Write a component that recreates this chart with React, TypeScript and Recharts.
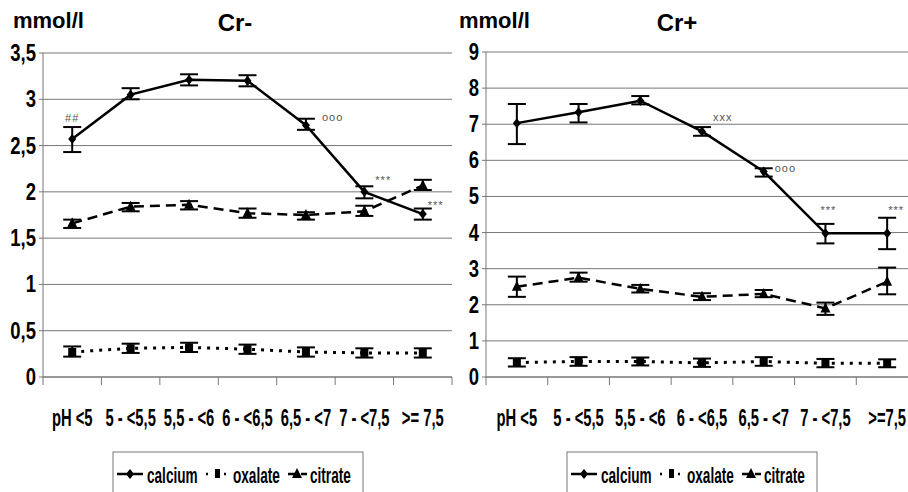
import { LineChart, Line, XAxis, YAxis, CartesianGrid, ErrorBar, LabelList } from 'recharts';

const phClassesMinus = ['pH <5', '5 - <5,5', '5,5 - <6', '6 - <6,5', '6,5 - <7', '7 - <7,5', '>= 7,5'];
const phClassesPlus = ['pH <5', '5 - <5,5', '5,5 - <6', '6 - <6,5', '6,5 - <7', '7 - <7,5', '>=7,5'];

// Cr- panel (mmol/l)
const minusCalcium = [2.57, 3.05, 3.21, 3.2, 2.72, 2.0, 1.76];
const minusCalciumLow = [2.43, 3.0, 3.15, 3.14, 2.67, 1.93, 1.7];
const minusCalciumHigh = [2.7, 3.12, 3.27, 3.26, 2.79, 2.06, 1.82];
const minusOxalate = [0.27, 0.31, 0.32, 0.3, 0.27, 0.26, 0.26];
const minusOxalateLow = [0.22, 0.26, 0.27, 0.25, 0.22, 0.21, 0.21];
const minusOxalateHigh = [0.33, 0.36, 0.37, 0.35, 0.32, 0.31, 0.31];
const minusCitrate = [1.66, 1.84, 1.86, 1.77, 1.75, 1.79, 2.07];
const minusCitrateLow = [1.61, 1.79, 1.81, 1.72, 1.7, 1.74, 2.02];
const minusCitrateHigh = [1.7, 1.88, 1.9, 1.82, 1.78, 1.85, 2.13];
const minusNotes = ['##', '', '', '', 'ooo', '***', '***'];
const minusTicks = [0, 0.5, 1, 1.5, 2, 2.5, 3, 3.5];

// Cr+ panel (mmol/l)
const plusCalcium = [7.03, 7.33, 7.65, 6.8, 5.69, 3.98, 3.98];
const plusCalciumLow = [6.45, 7.05, 7.55, 6.68, 5.55, 3.7, 3.54];
const plusCalciumHigh = [7.56, 7.56, 7.78, 6.92, 5.78, 4.24, 4.41];
const plusOxalate = [0.4, 0.43, 0.43, 0.39, 0.43, 0.38, 0.38];
const plusOxalateLow = [0.29, 0.31, 0.32, 0.28, 0.31, 0.27, 0.27];
const plusOxalateHigh = [0.52, 0.55, 0.54, 0.51, 0.55, 0.5, 0.49];
const plusCitrate = [2.5, 2.75, 2.44, 2.22, 2.3, 1.9, 2.64];
const plusCitrateLow = [2.22, 2.64, 2.34, 2.13, 2.21, 1.72, 2.29];
const plusCitrateHigh = [2.78, 2.89, 2.55, 2.32, 2.41, 2.06, 3.03];
const plusNotes = ['', '', '', 'xxx', 'ooo', '***', '***'];
const plusTicks = [0, 1, 2, 3, 4, 5, 6, 7, 8, 9];

// where each significance mark sits relative to its calcium point: [dx, dy, anchor]
const minusNoteShift: [number, number, string][] = [
  [0, -17, 'middle'], [0, 0, 'start'], [0, 0, 'start'], [0, 0, 'start'],
  [16, -4, 'start'], [11, -8, 'start'], [5, -5, 'start'],
];
const plusNoteShift: [number, number, string][] = [
  [0, 0, 'start'], [0, 0, 'start'], [0, 0, 'start'], [11, -10, 'start'],
  [11, 0, 'start'], [-5, -19, 'start'], [1, -19, 'start'],
];

// bold Arial-like face squeezed to look like the narrow face of the original
const FONT = '"Liberation Sans", Arial, sans-serif';
const GRID = '#777';

const buildRows = (cats: string[], ca: number[], caLo: number[], caHi: number[],
  ox: number[], oxLo: number[], oxHi: number[], ci: number[], ciLo: number[], ciHi: number[], notes: string[]) =>
  cats.map((cat, i) => ({
    cat,
    calcium: ca[i], calciumErr: [ca[i] - caLo[i], caHi[i] - ca[i]],
    oxalate: ox[i], oxalateErr: [ox[i] - oxLo[i], oxHi[i] - ox[i]],
    citrate: ci[i], citrateErr: [ci[i] - ciLo[i], ciHi[i] - ci[i]],
    note: notes[i],
  }));

const minusRows = buildRows(phClassesMinus, minusCalcium, minusCalciumLow, minusCalciumHigh,
  minusOxalate, minusOxalateLow, minusOxalateHigh, minusCitrate, minusCitrateLow, minusCitrateHigh, minusNotes);
const plusRows = buildRows(phClassesPlus, plusCalcium, plusCalciumLow, plusCalciumHigh,
  plusOxalate, plusOxalateLow, plusOxalateHigh, plusCitrate, plusCitrateLow, plusCitrateHigh, plusNotes);

const Diamond = ({ cx, cy }: any) =>
  cx == null ? null : <path d={`M${cx},${cy - 5}L${cx + 4},${cy}L${cx},${cy + 5}L${cx - 4},${cy}Z`} fill="#000" />;
const Square = ({ cx, cy }: any) =>
  cx == null ? null : <rect x={cx - 4} y={cy - 4} width={8} height={8} fill="#000" />;
const Triangle = ({ cx, cy }: any) =>
  cx == null ? null : <path d={`M${cx},${cy - 6}L${cx + 5},${cy + 4}L${cx - 5},${cy + 4}Z`} fill="#000" />;

const makeXTick = (step: number, count: number) => (props: any) => {
  const { x, y, payload } = props;
  const idx = payload.index ?? props.index;
  return (
    <g>
      <line x1={x - step / 2} y1={y} x2={x - step / 2} y2={y + 8} stroke={GRID} />
      {idx === count - 1 && <line x1={x + step / 2} y1={y} x2={x + step / 2} y2={y + 8} stroke={GRID} />}
      <text transform={`translate(${x},${y + 49}) scale(0.82,1.3)`} textAnchor="middle"
        fontFamily={FONT} fontWeight="bold" fontSize={18} fill="#000">{payload.value}</text>
    </g>
  );
};

const YTick = (props: any) => {
  const { x, y, payload } = props;
  return (
    <text transform={`translate(${x},${y + 8}) scale(0.84,1.05)`} textAnchor="end"
      fontFamily={FONT} fontWeight="bold" fontSize={22} fill="#000">
      {String(payload.value).replace('.', ',')}
    </text>
  );
};

const makeNote = (shift: [number, number, string][]) => (props: any) => {
  const { x, y, value, index } = props;
  if (!value) return null;
  const [dx, dy, anchor] = shift[index];
  return (
    <text x={x + dx} y={y + dy} textAnchor={anchor as any} fontFamily={FONT} fontSize={11}
      letterSpacing={1} fill="#555">{value}</text>
  );
};

function Panel({ rows, ticks, yMax, width, yAxisWidth, marginTop, marginRight, plotWidth, shift }: any) {
  const step = plotWidth / rows.length;
  return (
    <LineChart width={width} height={492} data={rows}
      margin={{ top: marginTop, right: marginRight, bottom: 0, left: 0 }}>
      <CartesianGrid vertical={false} stroke={GRID} strokeWidth={1} />
      <XAxis dataKey="cat" height={115} interval={0} stroke={GRID} tickSize={0} tickMargin={0}
        padding={{ left: step / 2, right: step / 2 }} tick={makeXTick(step, rows.length)} />
      <YAxis width={yAxisWidth} domain={[0, yMax]} ticks={ticks} interval={0} stroke={GRID}
        tickSize={4} tickMargin={3} tick={<YTick />} />
      <YAxis yAxisId="edge" orientation="right" width={0} domain={[0, yMax]} tick={false}
        tickLine={false} stroke={GRID} />
      <Line dataKey="oxalate" stroke="#000" strokeWidth={3} strokeDasharray="3 6"
        dot={<Square />} activeDot={false} isAnimationActive={false}>
        <ErrorBar dataKey="oxalateErr" width={9} stroke="#000" strokeWidth={2} isAnimationActive={false} />
      </Line>
      <Line dataKey="citrate" stroke="#000" strokeWidth={2.5} strokeDasharray="10 6"
        dot={<Triangle />} activeDot={false} isAnimationActive={false}>
        <ErrorBar dataKey="citrateErr" width={9} stroke="#000" strokeWidth={2} isAnimationActive={false} />
      </Line>
      <Line dataKey="calcium" stroke="#000" strokeWidth={2.5}
        dot={<Diamond />} activeDot={false} isAnimationActive={false}>
        <ErrorBar dataKey="calciumErr" width={9} stroke="#000" strokeWidth={2} isAnimationActive={false} />
        <LabelList dataKey="note" content={makeNote(shift)} />
      </Line>
    </LineChart>
  );
}

function LegendBox({ x }: { x: number }) {
  const y = 474;
  const label = (tx: number, text: string) => (
    <text transform={`translate(${tx},${483}) scale(0.8,1.28)`} fontFamily={FONT} fontWeight="bold"
      fontSize={17} fill="#000">{text}</text>
  );
  return (
    <g>
      <rect x={x} y={452} width={250} height={60} fill="#fff" stroke="#777" />
      <line x1={x + 4} y1={y} x2={x + 30} y2={y} stroke="#000" strokeWidth={2.5} />
      <Diamond cx={x + 17} cy={y} />
      {label(x + 34, 'calcium')}
      <line x1={x + 93} y1={y} x2={x + 117} y2={y} stroke="#000" strokeWidth={2.5} strokeDasharray="2 7" />
      <rect x={x + 102} y={y - 5} width={5} height={9} fill="#000" />
      {label(x + 120, 'oxalate')}
      <line x1={x + 175} y1={y} x2={x + 194} y2={y} stroke="#000" strokeWidth={2.5} strokeDasharray="9 4" />
      <Triangle cx={x + 184} cy={y} />
      {label(x + 197, 'citrate')}
    </g>
  );
}

export default function App() {
  return (
    <div style={{ position: 'fixed', left: 0, top: 0, width: 908, height: 492, overflow: 'hidden', background: '#fff' }}>
      <div style={{ position: 'absolute', left: 0, top: 0 }}>
        <Panel rows={minusRows} ticks={minusTicks} yMax={3.5} width={460} yAxisWidth={43}
          marginTop={53} marginRight={8} plotWidth={409} shift={minusNoteShift} />
      </div>
      <div style={{ position: 'absolute', left: 460, top: 0 }}>
        <Panel rows={plusRows} ticks={plusTicks} yMax={9} width={470} yAxisWidth={26}
          marginTop={52} marginRight={12} plotWidth={432} shift={plusNoteShift} />
      </div>
      <svg width={908} height={492} style={{ position: 'absolute', left: 0, top: 0, pointerEvents: 'none' }}>
        <text x={13} y={28} fontFamily={FONT} fontWeight="bold" fontSize={22} fill="#000">mmol/l</text>
        <text x={235} y={31} textAnchor="middle" fontFamily={FONT} fontWeight="bold" fontSize={24} fill="#000">Cr-</text>
        <text x={459} y={28} fontFamily={FONT} fontWeight="bold" fontSize={22} fill="#000">mmol/l</text>
        <text x={677} y={31} textAnchor="middle" fontFamily={FONT} fontWeight="bold" fontSize={24} fill="#000">Cr+</text>
        <LegendBox x={113} />
        <LegendBox x={567} />
      </svg>
    </div>
  );
}
